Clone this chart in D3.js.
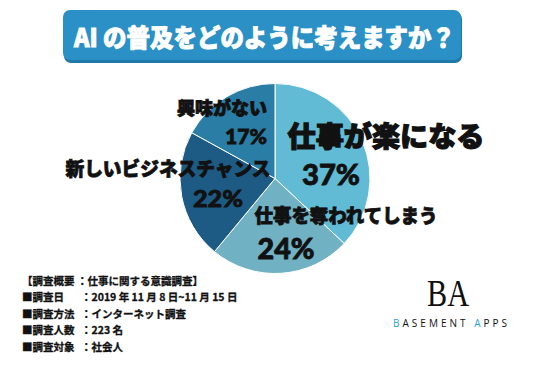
<!DOCTYPE html>
<html>
<head>
<meta charset="UTF-8">
<title>AIの普及をどのように考えますか？</title>
<style>
  html, body { margin: 0; padding: 0; background: #ffffff; }
  svg { display: block; font-family: "Noto Sans CJK JP", "Noto Sans", sans-serif; }
</style>
</head>
<body>
<div id="vis"></div>
<script src="https://d3js.org/d3.v7.min.js"></script>
<script>
// data
var categories = ["仕事が楽になる", "仕事を奪われてしまう", "新しいビジネスチャンス", "興味がない"];
var values = [37, 24, 22, 17];
var colors = ["#62bbd5", "#70b2c3", "#1d5b85", "#2a7ea5"];
var surveyKeys = ["■調査日", "■調査方法", "■調査人数", "■調査対象"];
var surveyVals = ["：2019 年 11 月 8 日~11 月 15 日", "：インターネット調査", "：223 名", "：社会人"];

var width = 550, height = 375;
var cx = 275, cy = 178.5, radius = 95;

var svg = d3.select("#vis").append("svg")
  .attr("width", width)
  .attr("height", height);

// title box
svg.append("rect")
  .attr("x", 64).attr("y", 12).attr("width", 398).attr("height", 51)
  .attr("rx", 7).attr("fill", "#1f78a8");
svg.append("rect")
  .attr("x", 63).attr("y", 10).attr("width", 398).attr("height", 50)
  .attr("rx", 7).attr("fill", "#2b90c5");
svg.append("text")
  .attr("x", 74).attr("y", 36)
  .attr("dominant-baseline", "central")
  .attr("textLength", 381)
  .attr("lengthAdjust", "spacingAndGlyphs")
  .style("font-size", "25px").style("font-weight", 900)
  .style("fill", "#ffffff")
  .style("stroke", "#ffffff").style("stroke-width", 0.9)
  .text("AI の普及をどのように考えますか？");

// pie
var pie = d3.pie().sort(null).value(function(d) { return d; });
var arc = d3.arc().innerRadius(0).outerRadius(radius);
var arcs = pie(values);

var g = svg.append("g").attr("transform", "translate(" + cx + "," + cy + ")");
g.selectAll("path")
  .data(arcs)
  .enter()
  .append("path")
  .attr("d", arc)
  .attr("fill", function(d, i) { return colors[i]; })
  .attr("stroke", "#ffffff")
  .attr("stroke-width", 1);

// labels (name line + percent line) per slice
var labelPos = [
  {nx: 386, ny: 135, ns: 28, nw: 197, px: 331, py: 173, ps: 29, pw: 58},
  {nx: 346, ny: 214.5, ns: 19, nw: 183, px: 286, py: 248, ps: 28, pw: 57},
  {nx: 168, ny: 167.5, ns: 19, nw: 205, px: 218, py: 198, ps: 23, pw: 50},
  {nx: 222, ny: 106.5, ns: 18, nw: 90, px: 246, py: 136, ps: 20, pw: 42}
];

var labels = svg.selectAll("g.lbl")
  .data(arcs)
  .enter()
  .append("g")
  .attr("class", "lbl");

labels.append("text")
  .attr("x", function(d, i) { return labelPos[i].nx; })
  .attr("y", function(d, i) { return labelPos[i].ny; })
  .attr("text-anchor", "middle")
  .attr("dominant-baseline", "central")
  .attr("textLength", function(d, i) { return labelPos[i].nw; })
  .attr("lengthAdjust", "spacingAndGlyphs")
  .style("font-size", function(d, i) { return labelPos[i].ns + "px"; })
  .style("font-weight", 900)
  .style("fill", "#111111")
  .style("stroke", "#111111")
  .style("stroke-width", function(d, i) { return i == 0 ? 1.2 : 0.8; })
  .text(function(d, i) { return categories[i]; });

labels.append("text")
  .attr("x", function(d, i) { return labelPos[i].px; })
  .attr("y", function(d, i) { return labelPos[i].py; })
  .attr("text-anchor", "middle")
  .attr("dominant-baseline", "central")
  .attr("textLength", function(d, i) { return labelPos[i].pw; })
  .attr("lengthAdjust", "spacingAndGlyphs")
  .style("font-family", "Lato, 'Open Sans', sans-serif")
  .style("font-size", function(d, i) { return labelPos[i].ps + "px"; })
  .style("font-weight", 900)
  .style("fill", "#111111")
  .style("stroke", "#111111")
  .style("stroke-width", 0.8)
  .text(function(d) { return d.value + "%"; });

// survey notes
var notes = svg.append("g")
  .style("font-size", "10.5px").style("font-weight", 700)
  .style("fill", "#111111").style("stroke", "#111111").style("stroke-width", 0.3);
notes.append("text")
  .attr("x", 22).attr("y", 280)
  .attr("dominant-baseline", "central")
  .text("【調査概要 ：仕事に関する意識調査】");
surveyKeys.forEach(function(k, i) {
  var y = 296.5 + i * 16.5;
  notes.append("text").attr("x", 22).attr("y", y)
    .attr("dominant-baseline", "central").text(k);
  notes.append("text").attr("x", 81).attr("y", y)
    .attr("dominant-baseline", "central").text(surveyVals[i]);
});

// logo
var logo = svg.append("g");
logo.append("text")
  .attr("x", 448).attr("y", 306)
  .attr("text-anchor", "middle")
  .attr("textLength", 42)
  .attr("lengthAdjust", "spacingAndGlyphs")
  .style("font-family", "'Liberation Serif', 'DejaVu Serif', serif")
  .style("font-size", "38px")
  .style("fill", "#111111")
  .text("BA");
var brand = logo.append("text")
  .attr("x", 393).attr("y", 323)
  .attr("dominant-baseline", "central")
  .attr("textLength", 114)
  .attr("lengthAdjust", "spacing")
  .style("font-family", "'Open Sans', 'Liberation Sans', sans-serif")
  .style("font-size", "10px")
  .style("fill", "#111111");
brand.append("tspan").style("fill", "#2a9fd8").text("B");
brand.append("tspan").text("ASEMENT ");
brand.append("tspan").style("fill", "#2a9fd8").text("A");
brand.append("tspan").text("PPS");
</script>
</body>
</html>
